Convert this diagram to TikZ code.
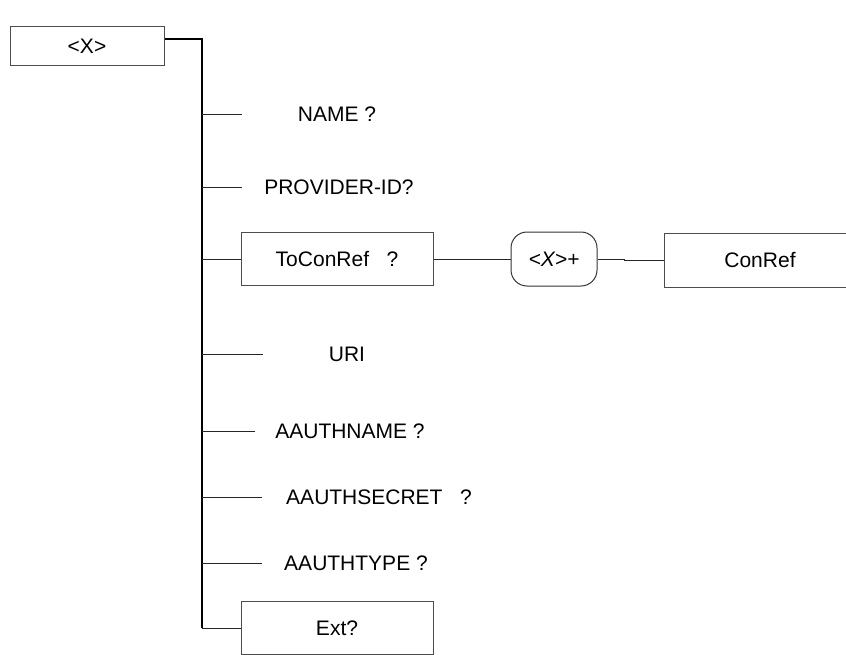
\documentclass[tikz,border=0pt]{standalone}
\usepackage{fontspec}
\setmainfont{Liberation Sans}
\begin{document}
\begin{tikzpicture}[x=1pt,y=-1pt,
  elembox/.style={draw=black!70,line width=1pt,minimum width=192pt,minimum height=53pt,inner sep=0pt},
  optbox/.style={draw=black!80,line width=1pt,rounded corners=16pt,minimum width=86pt,minimum height=54pt,inner sep=0pt},
  leaf/.style={inner sep=0pt},
  branch/.style={line width=1pt,black!85},
  font=\fontsize{21}{25}\selectfont]
\useasboundingbox (0,0) rectangle (846,654);
\def\tx{202} % x of the trunk
% root element
\node[elembox,minimum width=154pt,minimum height=39pt] (root) at (87,46) {<X>};
\coordinate (top) at (\tx,39);
\coordinate (bot) at (\tx,628);
\draw[line width=1.4pt] ([yshift=7pt]root.east) -- (top) -- (bot);
% plain children: y / end of line / x of text / label / name
\foreach \y/\e/\c/\lab/\nm in {114/242/337/NAME ?/name,
                              187/242/339/PROVIDER-ID?/provid,
                              354/263/347/URI/uri,
                              431/255/350/AAUTHNAME ?/aname,
                              497/262/379/AAUTHSECRET\ \ \ ?/asecret,
                              563/262/356/AAUTHTYPE ?/atype}
{
\node[leaf] (\nm) at (\c,\y) {\lab};
\coordinate (\nm end) at (\e,\y);
\draw[branch] (\tx,\y) -- (\nm end);
}
% ToConRef branch
\node[elembox] (toconref) at (337,259) {ToConRef\ \ \ ?};
\node[optbox] (many) at (554,259) {\textit{<X>+}};
\node[elembox,minimum height=54pt] (conref) at (760,260) {ConRef};
\coordinate (jog) at (624,259);
\draw[branch] (toconref.west -| top) -- (toconref.west);
\draw[branch] (toconref) -- (many);
\draw[branch] (many) -- (jog) -- (jog |- conref.west) -- (conref.west);
% extension
\node[elembox] (ext) at (337,628) {Ext?};
\draw[branch] (bot) -- (ext.west);
\end{tikzpicture}
\end{document}
